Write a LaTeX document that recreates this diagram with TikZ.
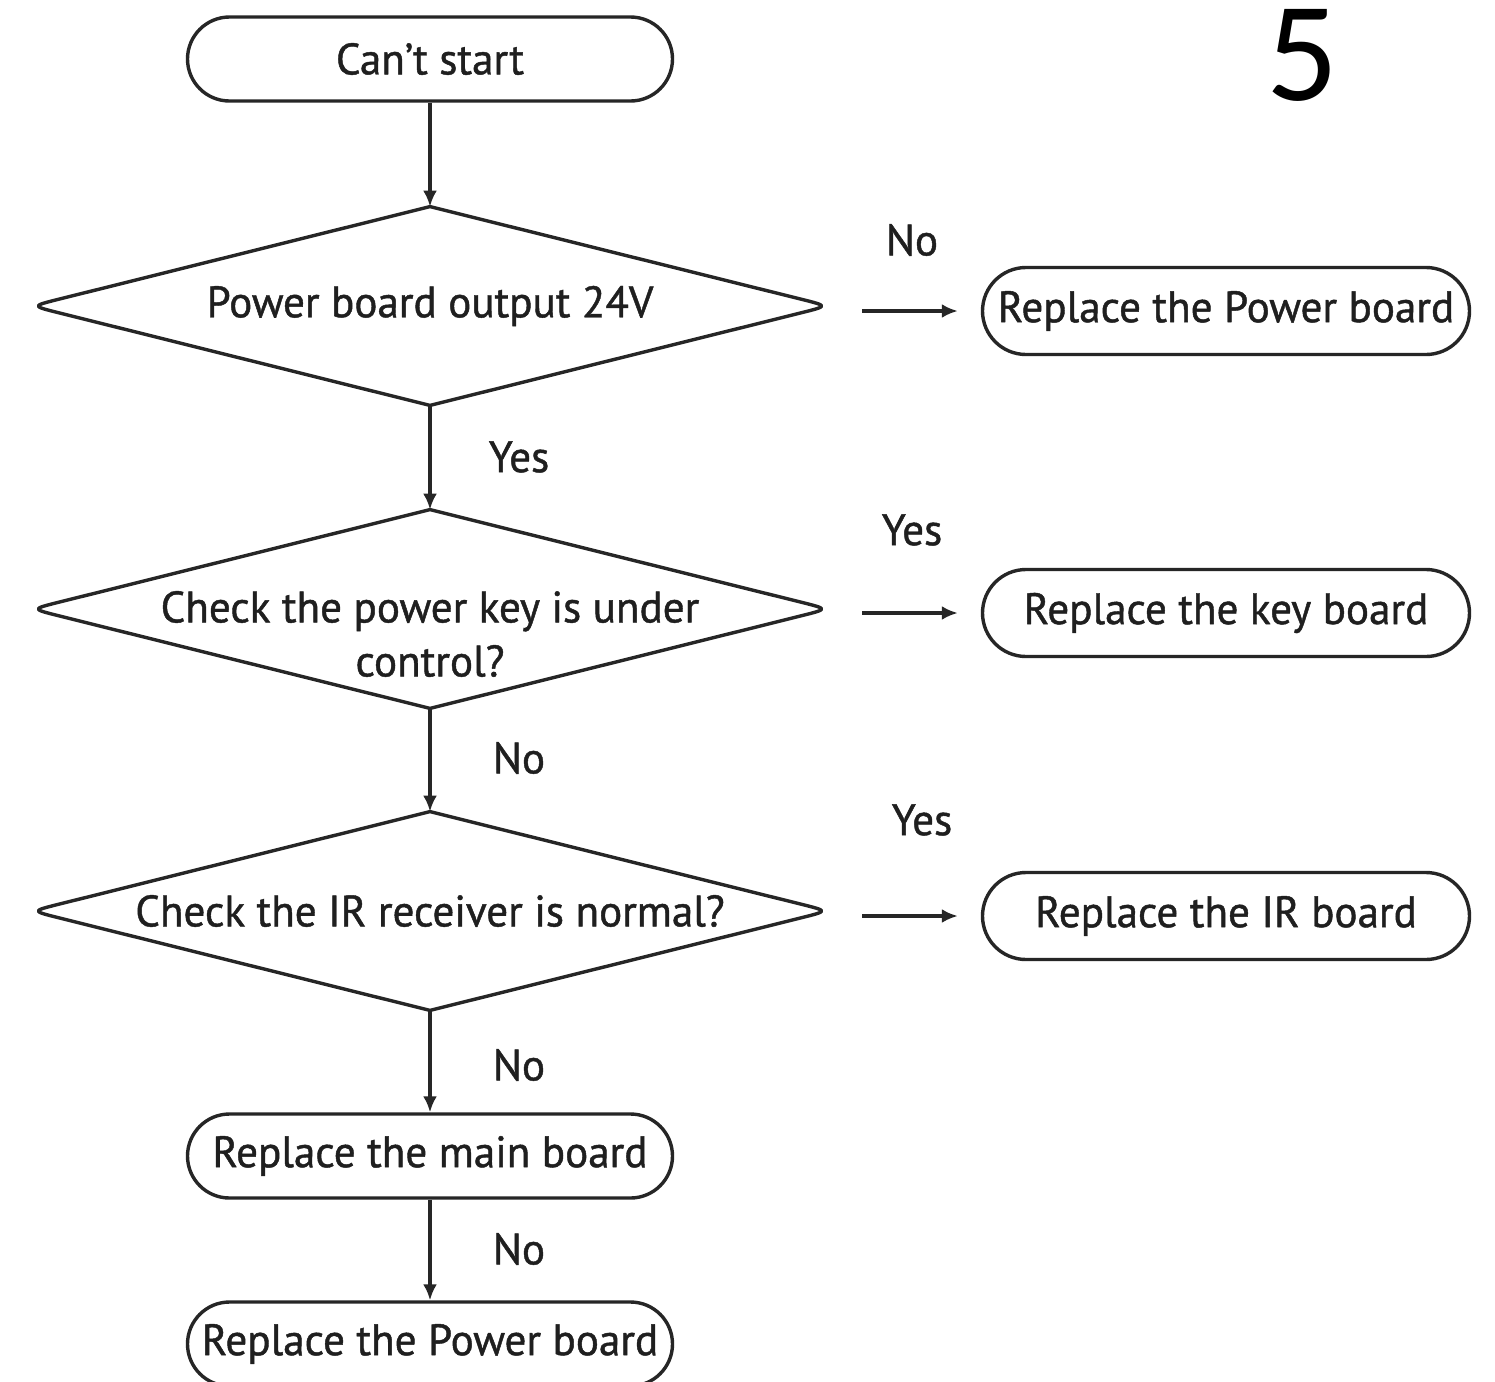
\documentclass[tikz,border=0pt]{standalone}
\usepackage{fontspec}
\setmainfont{PT Sans}[FakeStretch=0.98, FakeBold=1]
\newfontfamily\numfont{Carlito}
\usetikzlibrary{arrows.meta,calc}
\tikzset{
  ln/.style={line width=1.7pt, draw=black!85, line join=round},
  term/.style={ln, rectangle, rounded corners=21pt, minimum width=242.5pt, minimum height=42pt, inner sep=0pt, font=\fontsize{22}{26}\selectfont, text=black!88},
  rterm/.style={term, minimum width=243.5pt, minimum height=43.5pt, rounded corners=21.75pt},
  dia/.style={rectangle, minimum width=398pt, minimum height=99pt, inner sep=0pt, font=\fontsize{22}{27}\selectfont, text=black!88, align=center},
  lbl/.style={font=\fontsize{22}{26}\selectfont, text=black!88, inner sep=0pt},
  arr/.style={ln, -{Latex[length=8pt,width=7pt]}},
}
\newcommand{\diapath}[1]{%
  \draw[ln] (#1.north) -- ($(#1.east)!14pt!(#1.north)$) .. controls (#1.east) .. ($(#1.east)!14pt!(#1.south)$)
    -- (#1.south) -- ($(#1.west)!14pt!(#1.south)$) .. controls (#1.west) .. ($(#1.west)!14pt!(#1.north)$) -- cycle;}
\begin{document}
\begin{tikzpicture}[x=0.5pt,y=-0.5pt]
\useasboundingbox[fill=white] (0,0) rectangle (1495,1382);
% left column
\node[term] (start) at (430,59) {Can't start};
\node[dia] (d1) at (430,306) {Power board output 24V};
\node[dia] (d2) at (430,609) {};
\node[dia] (t2) at (430,634) [minimum width=0pt, minimum height=0pt] {Check the power key is under\\control?};
\node[dia] (d3) at (430,911) {Check the IR receiver is normal?};
\node[term] (main) at (430,1156) {Replace the main board};
\node[term] (pb2) at (430,1344) {Replace the Power board};
\diapath{d1}
\diapath{d2}
\diapath{d3}
% right column
\node[rterm] (r1) at (1226,311) {Replace the Power board};
\node[rterm] (r2) at (1226,613) {Replace the key board};
\node[rterm] (r3) at (1226,916) {Replace the IR board};
% number
\node[inner sep=0pt, anchor=base, font=\numfont\fontsize{71}{78}\selectfont] (num) at (1302,100) {5};
% vertical arrows
\draw[arr] (start.south) -- (d1.north);
\draw[arr] (d1.south) -- (d2.north);
\draw[arr] (d2.south) -- (d3.north);
\draw[arr] (d3.south) -- (main.north);
\draw[arr] (main.south) -- (pb2.north);
% horizontal arrows
\draw[arr, shorten <=17pt, shorten >=11.5pt] (d1.east |- r1.west) -- (r1.west);
\draw[arr, shorten <=17pt, shorten >=11.5pt] (d2.east |- r2.west) -- (r2.west);
\draw[arr, shorten <=17pt, shorten >=11.5pt] (d3.east |- r3.west) -- (r3.west);
% labels
\node[lbl] (l1) at (519,457) {Yes};
\node[lbl] (l2) at (519,758) {No};
\node[lbl] (l3) at (519,1065) {No};
\node[lbl] (l4) at (519,1249) {No};
\node[lbl] (l5) at (912,240) {No};
\node[lbl] (l6) at (912,530) {Yes};
\node[lbl] (l7) at (922,820) {Yes};
\end{tikzpicture}
\end{document}
